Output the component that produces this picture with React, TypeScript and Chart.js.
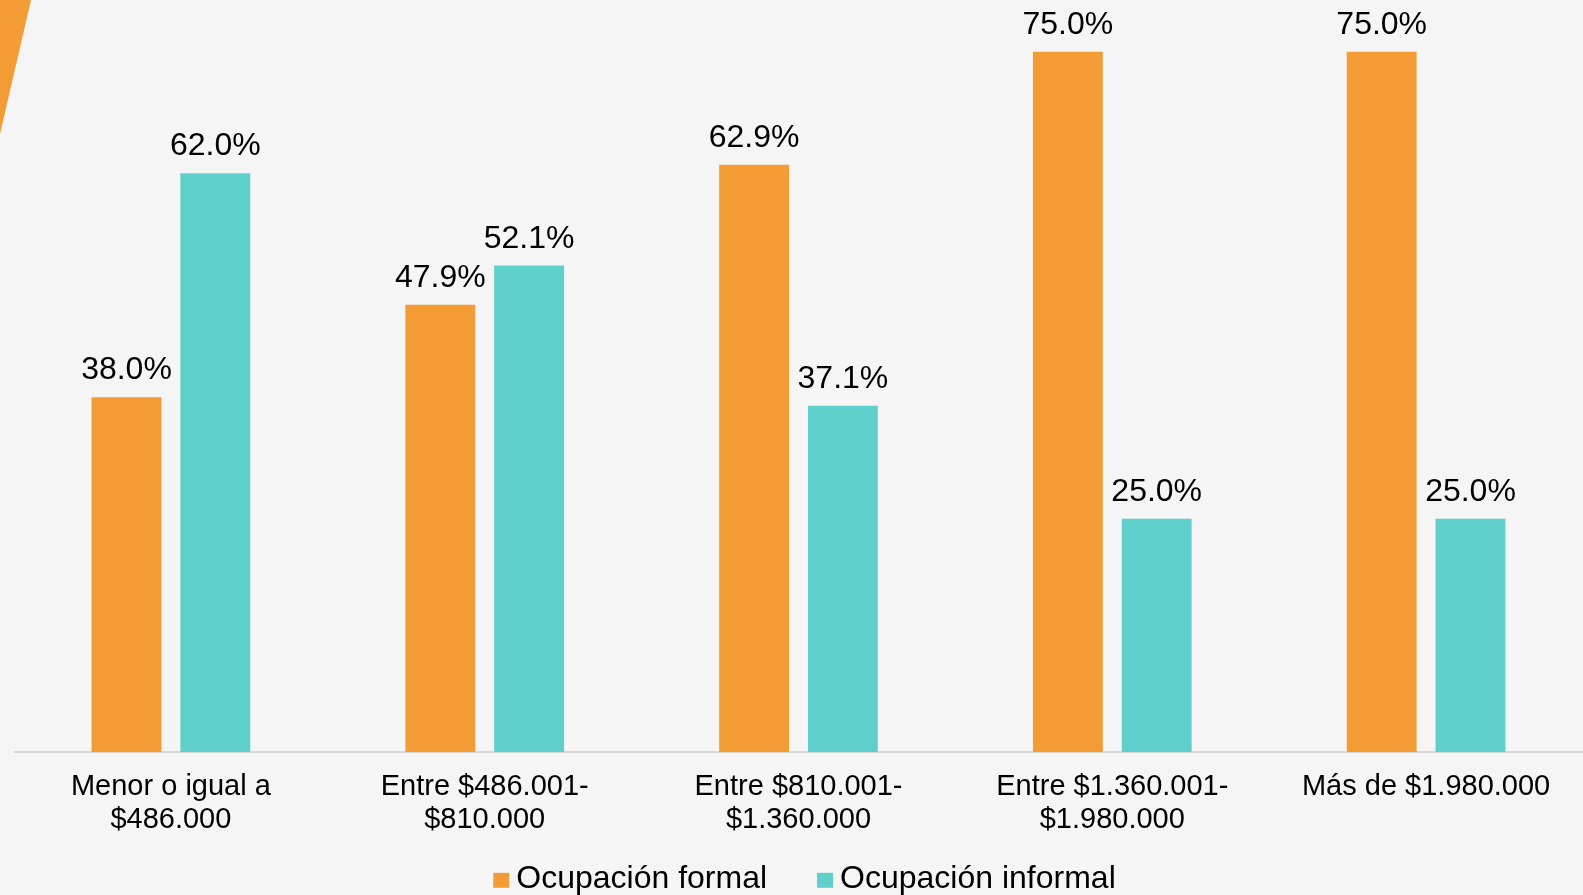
import React, { useEffect, useRef } from "react";
import { Chart, registerables } from "chart.js";

Chart.register(...registerables);

const categories: (string | string[])[] = [
  ["Menor o igual a", "$486.000"],
  ["Entre $486.001-", "$810.000"],
  ["Entre $810.001-", "$1.360.000"],
  ["Entre $1.360.001-", "$1.980.000"],
  "Más de $1.980.000",
];
const formal = [38.0, 47.9, 62.9, 75.0, 75.0];
const informal = [62.0, 52.1, 37.1, 25.0, 25.0];

const ORANGE = "#f39c35";
const TEAL = "#5fcfcc";
const BG = "#f5f5f5";
const FONT = "Arial, 'Liberation Sans', sans-serif";

const bgPlugin = {
  id: "bgDeco",
  beforeDraw(chart: any) {
    const { ctx, width, height } = chart;
    ctx.save();
    ctx.fillStyle = BG;
    ctx.fillRect(0, 0, width, height);
    ctx.fillStyle = ORANGE;
    ctx.beginPath();
    ctx.moveTo(0, 0);
    ctx.lineTo(31, 0);
    ctx.lineTo(0, 134);
    ctx.closePath();
    ctx.fill();
    ctx.restore();
  },
};

const labelPlugin = {
  id: "valueLabels",
  afterDatasetsDraw(chart: any) {
    const { ctx } = chart;
    ctx.save();
    ctx.font = `32px ${FONT}`;
    ctx.fillStyle = "#000";
    ctx.textAlign = "center";
    ctx.textBaseline = "alphabetic";
    chart.data.datasets.forEach((ds: any, i: number) => {
      const meta = chart.getDatasetMeta(i);
      meta.data.forEach((el: any, j: number) => {
        ctx.fillText(ds.data[j].toFixed(1) + "%", el.x, el.y - 18);
      });
    });
    ctx.restore();
  },
};

const legendPlugin = {
  id: "customLegend",
  afterDraw(chart: any) {
    const { ctx, chartArea } = chart;
    const boxW = 16;
    const boxH = 15;
    const textGap = 7;
    const itemGap = 50;
    ctx.save();
    ctx.font = `32px ${FONT}`;
    ctx.textBaseline = "middle";
    ctx.textAlign = "left";
    const items = chart.data.datasets.map((ds: any) => ({
      text: ds.label,
      color: ds.backgroundColor,
      w: ctx.measureText(ds.label).width,
    }));
    const total =
      items.reduce((s: number, it: any) => s + boxW + textGap + it.w, 0) +
      itemGap * (items.length - 1);
    const cx = (chartArea.left + chartArea.right) / 2 + 6;
    const cy = chartArea.bottom + 127;
    let x = cx - total / 2;
    items.forEach((it: any) => {
      ctx.fillStyle = it.color;
      ctx.fillRect(x, cy - boxH / 2 + 1, boxW, boxH);
      x += boxW + textGap;
      ctx.fillStyle = "#000";
      ctx.fillText(it.text, x, cy);
      x += it.w + itemGap;
    });
    ctx.restore();
  },
};

export default function App() {
  const ref = useRef<HTMLCanvasElement | null>(null);
  useEffect(() => {
    if (!ref.current) return;
    const chart = new Chart(ref.current, {
      type: "bar",
      data: {
        labels: categories,
        datasets: [
          {
            label: "Ocupación formal",
            data: formal,
            backgroundColor: ORANGE,
            barPercentage: 0.787,
            categoryPercentage: 0.566,
          },
          {
            label: "Ocupación informal",
            data: informal,
            backgroundColor: TEAL,
            barPercentage: 0.787,
            categoryPercentage: 0.566,
          },
        ],
      },
      options: {
        animation: false,
        responsive: true,
        maintainAspectRatio: false,
        layout: { padding: { left: 14, right: -4, top: 5, bottom: 40 } },
        plugins: {
          tooltip: { enabled: false },
          legend: { display: false },
        },
        scales: {
          x: {
            grid: { display: true, color: "transparent", drawTicks: false },
            border: { display: true, color: "#d9d9d9", width: 2 },
            ticks: {
              color: "#000",
              font: { family: FONT, size: 29, lineHeight: 1.15 },
              padding: 18,
              maxRotation: 0,
              autoSkip: false,
            },
          },
          y: {
            display: false,
            min: 0,
            max: 80,
          },
        },
      },
      plugins: [bgPlugin, labelPlugin, legendPlugin],
    });
    return () => chart.destroy();
  }, []);
  return (
    <div
      style={{
        position: "fixed",
        left: 0,
        top: 0,
        width: 1583,
        height: 895,
        background: BG,
      }}
    >
      <canvas ref={ref} />
    </div>
  );
}
